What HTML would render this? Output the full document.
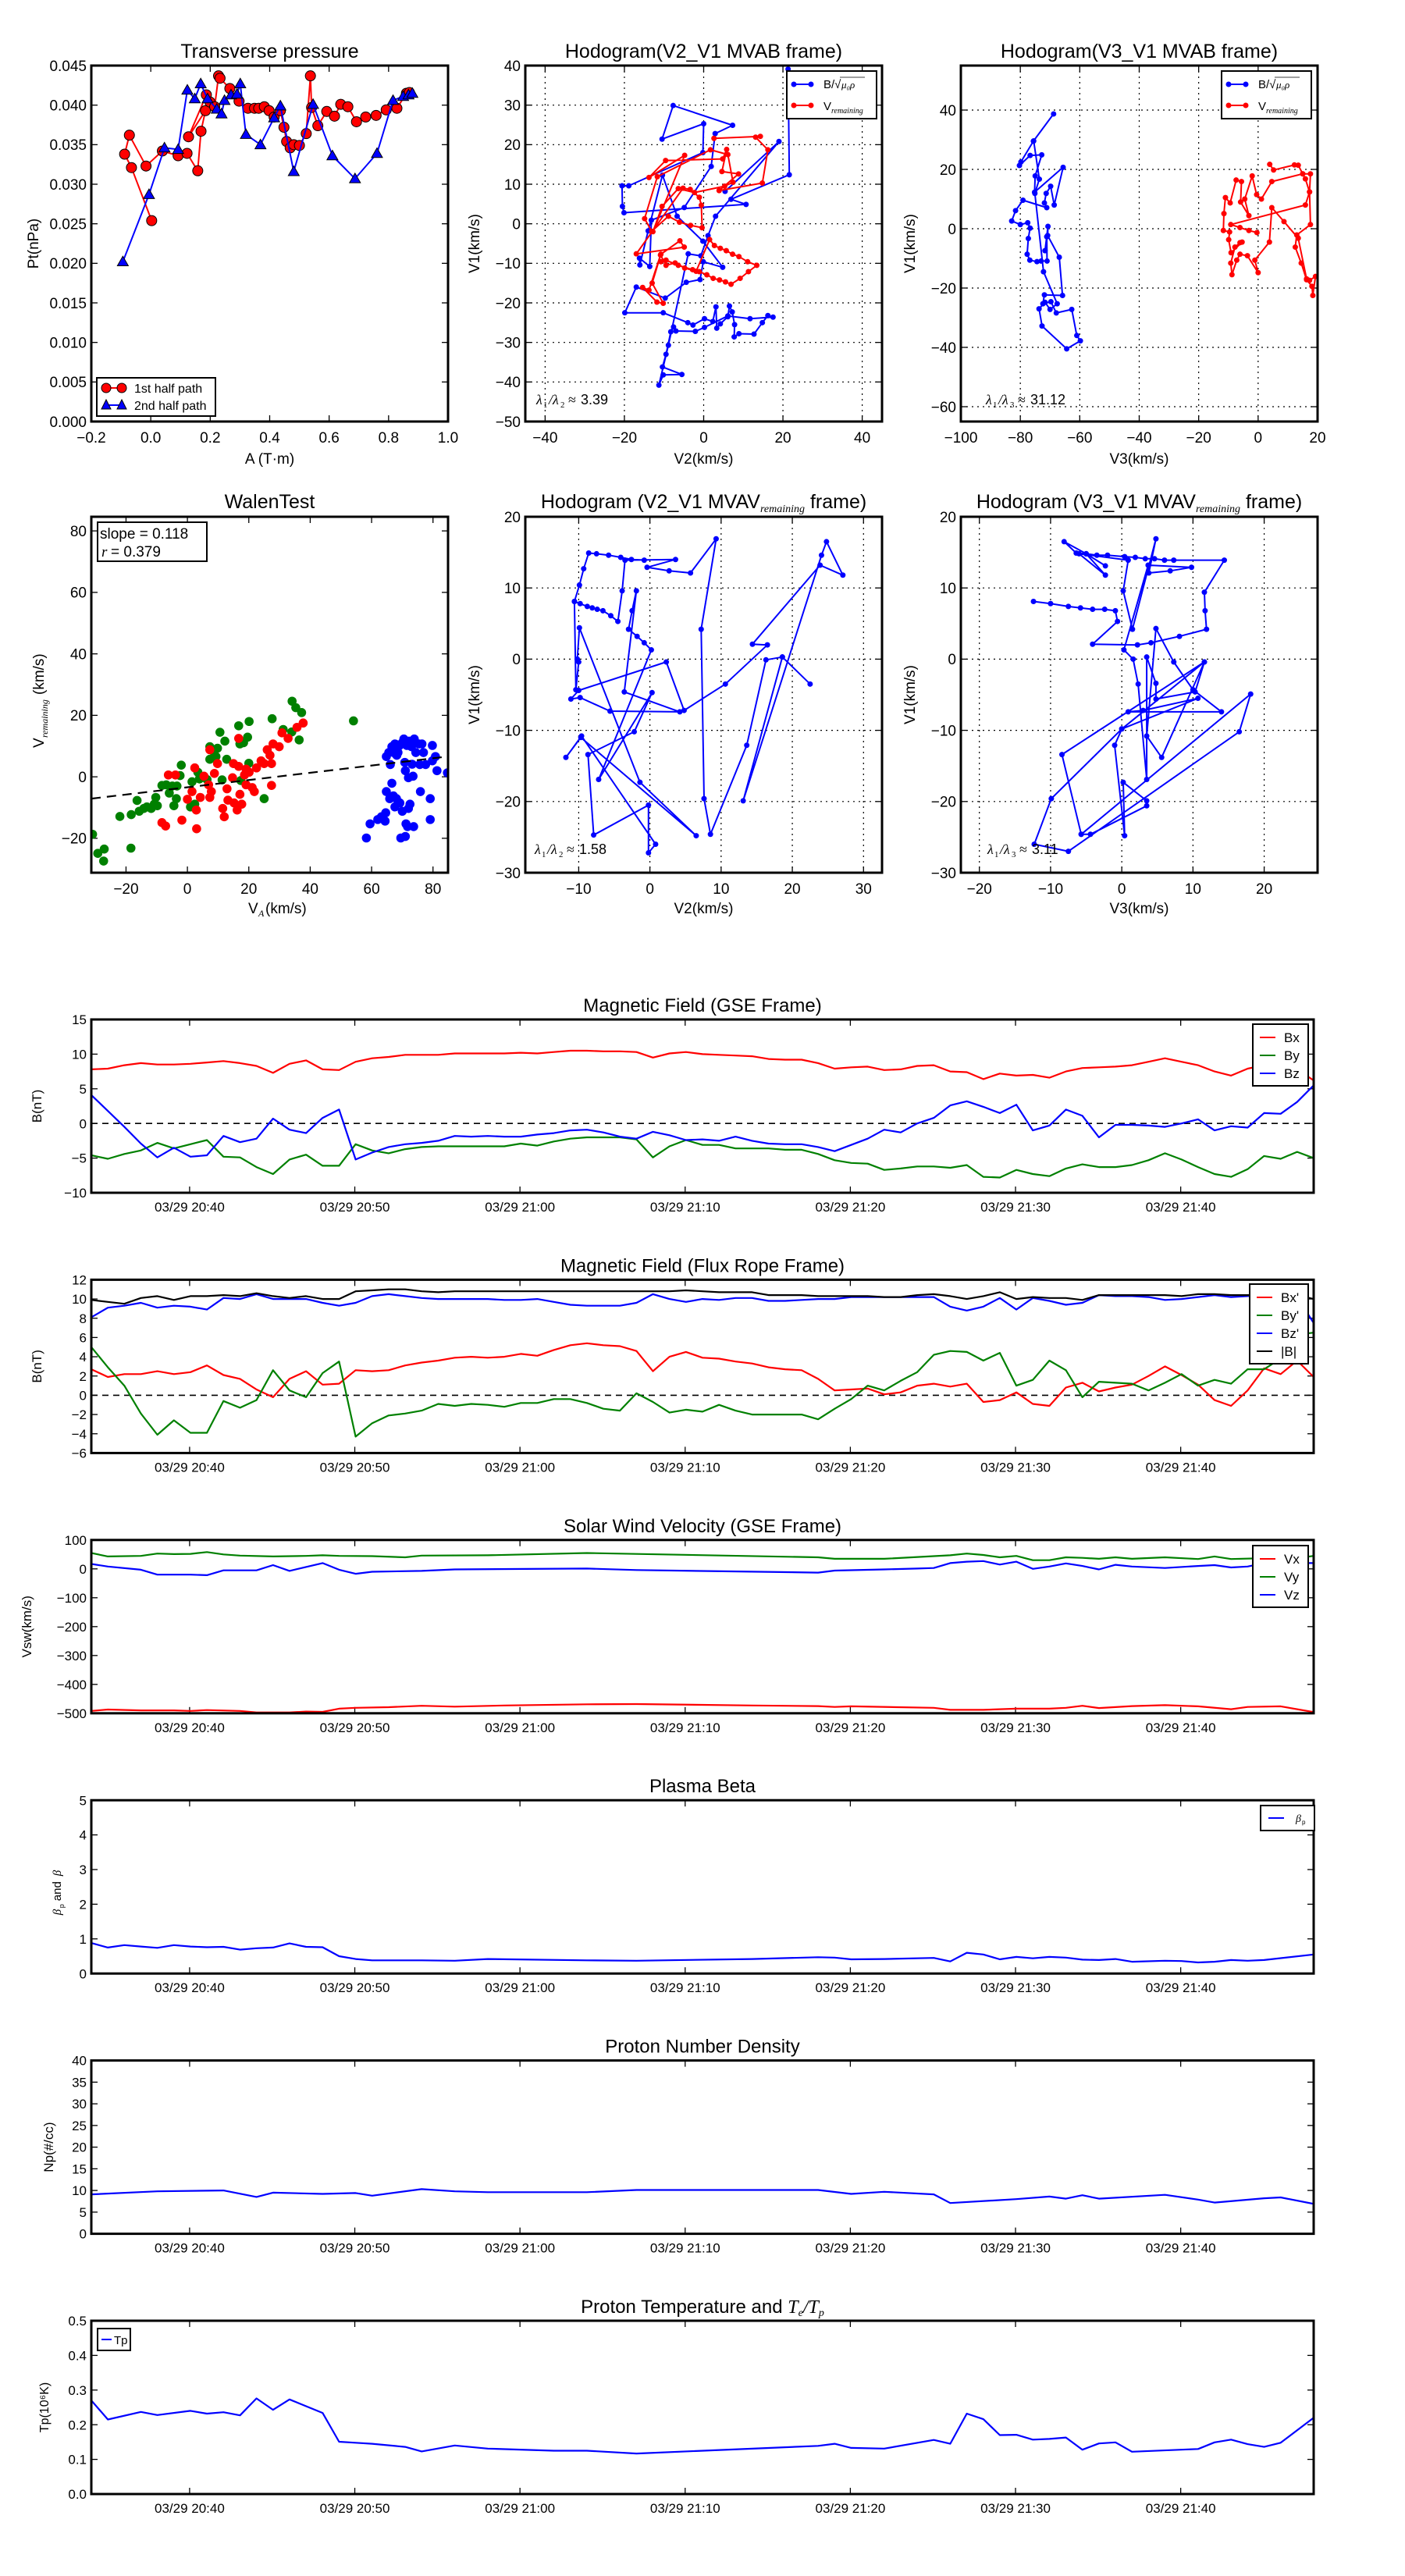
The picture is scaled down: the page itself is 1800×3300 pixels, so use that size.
<!DOCTYPE html>
<html><head><meta charset="utf-8">
<style>
html,body{margin:0;padding:0;background:#fff;}
svg{display:block;font-family:"Liberation Sans","DejaVu Sans",sans-serif;}
</style></head>
<body>
<svg id="fig" xmlns="http://www.w3.org/2000/svg" width="1800" height="3300" viewBox="0 0 1800 3300">
<rect x="0" y="0" width="1800" height="3300" fill="#fff"/>
</svg>
<script>
// ===== DATA =====
// Transverse pressure
const ptRedA=[0.003,-0.065,-0.088,-0.072,-0.016,0.039,0.092,0.122,0.158,0.169,0.184,0.127,0.187,0.199,0.215,0.228,0.233,0.266,0.297,0.327,0.349,0.363,0.382,0.398,0.415,0.436,0.448,0.457,0.469,0.481,0.500,0.523,0.537,0.541,0.562,0.592,0.618,0.639,0.663,0.692,0.723,0.758,0.792,0.828,0.860,0.870];
const ptRedP=[0.0254,0.0321,0.0338,0.0362,0.0323,0.0342,0.0336,0.0339,0.0317,0.0367,0.0393,0.0360,0.0413,0.0404,0.0398,0.0437,0.0434,0.0421,0.0405,0.0396,0.0396,0.0396,0.0398,0.0393,0.0385,0.0393,0.0372,0.0354,0.0346,0.0350,0.0349,0.0364,0.0437,0.0397,0.0374,0.0392,0.0386,0.0401,0.0398,0.0379,0.0385,0.0387,0.0394,0.0396,0.0415,0.0416];
const ptBlueA=[-0.094,-0.006,0.046,0.092,0.123,0.148,0.168,0.191,0.222,0.238,0.248,0.270,0.290,0.301,0.320,0.369,0.415,0.436,0.481,0.546,0.611,0.687,0.761,0.815,0.849,0.867,0.880];
const ptBlueP=[0.0202,0.0287,0.0346,0.0344,0.0419,0.0408,0.0427,0.0408,0.0395,0.0389,0.0406,0.0413,0.0414,0.0427,0.0363,0.0350,0.0384,0.0399,0.0316,0.0401,0.0336,0.0307,0.0339,0.0406,0.0411,0.0413,0.0415];
// Hodogram V2_V1 MVAB
const h1BV2=[21.3,21.6,6.9,10.7,-20.1,-20.5,-20.6,-18.9,-0.2,0.0,-10.5,-7.7,7.3,2.9,1.9,-4.9,-13.2,-13.6,-16.2,-16.1,-14.0,-10.4,-6.7,-0.2,4.8,-0.1,-0.9,-4.4,-9.7,-17.0,-19.9,-10.2,-4.0,-2.7,0.2,2.3,3.1,3.3,4.2,6.1,6.5,7.2,7.8,7.7,8.9,12.7,14.8,16.2,17.5,11.7,6.1,0.2,-2.1,-7.0,-7.6,-8.3,-9.5,-10.4,-5.5,-10.2,-11.3,-8.9,-3.9,-0.7,1.1,3.0,19.0,5.4];
const h1BV1=[39.1,12.4,6.2,4.9,2.8,4.4,9.6,9.6,18.0,25.3,21.4,29.9,24.9,22.8,14.5,4.1,0.9,-10.8,-8.7,-10.4,-1.8,12.3,1.9,-4.4,-11.0,-9.6,-14.1,-14.8,-18.8,-16.0,-22.5,-22.5,-25.0,-25.6,-24.0,-24.7,-21.0,-26.4,-25.3,-23.5,-20.8,-22.3,-25.5,-28.6,-27.8,-27.9,-25.0,-23.2,-23.6,-24.0,-23.3,-26.2,-27.2,-27.1,-26.1,-27.3,-33.0,-36.2,-38.1,-38.2,-40.8,-30.7,-7.6,-8.1,-3.0,1.9,20.8,8.2];
const h1RV2=[2.6,14.3,13.1,16.2,14.8,3.9,8.8,4.6,5.8,4.8,-9.6,-13.8,-4.8,-12.8,-10.5,-6.4,-2.3,5.3,7.4,6.1,1.7,-11.7,-14.9,-13.1,-8.9,-6.1,-3.3,-0.4,-0.6,-1.1,-3.4,-5.2,-17.0,-4.9,-6.0,-10.8,-13.0,-10.2,-11.8,-15.4,-13.8,-10.9,-9.5,-7.2,-4.8,-1.9,1.5,2.7,4.2,5.7,7.3,8.9,11.1,13.4,11.3,9.2,6.9,5.5,4.0,2.4,0.8,-1.1,-2.8,-6.4,-9.5,-10.8];
const h1RV1=[21.6,22.1,21.9,18.7,10.3,8.4,12.6,13.2,18.8,16.4,16.0,11.7,17.3,-2.0,4.4,8.9,7.9,9.5,10.5,17.5,18.7,11.9,1.3,-1.9,1.9,0.4,-0.4,-1.0,4.7,6.7,8.7,9.0,-7.6,-5.9,-4.3,-7.7,-15.0,-20.1,-19.8,-16.1,-16.8,-7.9,-10.5,-9.9,-11.2,-12.0,-4.0,-5.5,-6.2,-6.8,-7.7,-8.3,-9.6,-10.5,-12.1,-13.8,-15.3,-14.7,-14.2,-13.8,-12.9,-12.1,-11.6,-10.5,-9.2,-9.6];
// Hodogram V3_V1 MVAB
const h2BV3=[-68.8,-75.6,-79.8,-80.3,-76.7,-72.8,-75.0,-75.2,-65.6,-68.6,-69.8,-71.3,-71.9,-71.1,-79.1,-81.6,-82.9,-80.0,-77.5,-76.7,-77.3,-77.7,-76.8,-74.4,-73.0,-71.0,-71.1,-71.7,-70.7,-70.8,-66.9,-65.8,-71.9,-72.4,-69.7,-67.9,-62.7,-61.0,-59.8,-64.4,-72.7,-73.7,-71.7,-70.0,-67.6,-72.2,-75.1,-73.6,-75.5];
const h2BV1=[38.7,29.5,22.5,21.3,24.7,24.9,17.8,12.3,20.7,8.0,14.3,11.9,8.7,7.1,9.6,6.1,2.6,1.4,2.0,0.2,-3.3,-8.6,-10.6,-11.1,-10.9,-10.9,-2.7,-7.4,0.8,-2.3,-9.6,-22.5,-22.3,-25.3,-24.6,-28.4,-27.2,-36.0,-37.8,-40.5,-32.8,-27.0,-24.8,-27.2,-25.3,-14.5,11.9,16.7,29.6];
const h2RV3=[3.9,5.2,12.2,13.5,15.0,17.6,17.3,17.6,13.0,12.5,14.5,16.3,18.1,18.4,19.3,17.3,16.3,13.5,8.7,4.6,3.8,-1.1,0.0,-3.6,-6.1,-7.2,-8.8,-9.2,-7.8,-6.1,-5.4,-9.1,-9.9,-9.6,-11.7,-11.5,-11.0,-9.4,-7.4,-5.6,-5.9,-3.1,-4.5,-2.0,-0.5,1.1,4.6,15.0,15.9,17.3,15.9,-9.2,-6.1,-3.1,-0.4];
const h2RV1=[21.7,19.8,21.5,21.4,18.5,18.5,12.4,1.4,-2.1,-6.2,-11.6,-17.2,-19.4,-22.5,-16.1,-17.4,-16.9,-3.2,2.4,7.1,-4.5,-10.6,-14.8,-9.1,-8.6,-10.6,-15.5,-11.6,-6.2,-4.7,-4.5,-8.1,-3.7,-1.1,-0.6,5.1,10.5,8.7,16.4,15.9,9.0,4.4,10.0,17.8,11.5,10.0,15.9,18.5,16.8,12.4,8.0,1.4,0.4,-0.6,-1.3];
// Walen test
const wGreenVA=[-30.9,-29.2,-27.1,-27.3,-22.0,-18.4,-18.3,-16.4,-15.7,-14.2,-13.2,-11.8,-10.8,-10.3,-9.8,-8.3,-6.9,-5.9,-4.4,-3.4,-3.6,-2.4,-2.0,1.0,2.4,1.5,3.4,3.9,6.4,7.3,8.3,9.3,9.8,10.6,11.3,12.2,12.8,16.7,17.1,17.4,18.3,19.6,20.0,20.1,25.0,27.6,31.2,34.0,34.1,35.3,36.4,37.2,54.1,-4.9,7.3];
const wGreenV=[-18.7,-24.9,-23.5,-27.4,-12.9,-23.2,-12.3,-7.7,-11.2,-10.3,-9.8,-10.3,-8.9,-6.7,-9.4,-2.8,-2.6,-5.3,-9.4,-3.0,-7.1,0.4,3.8,-9.8,-8.9,-1.6,1.5,-0.7,-0.9,5.7,8.4,6.6,9.3,14.5,-1.0,11.6,5.7,16.6,10.7,-1.2,11.1,12.9,4.4,18.0,-7.1,18.9,15.4,14.6,24.6,22.5,12.0,20.9,18.2,-3.0,9.8];
const wRedVA=[-8.3,-7.1,-6.2,-3.9,-1.8,0.0,1.5,2.4,3.0,2.9,4.2,5.4,6.9,7.3,7.8,8.8,9.8,11.5,12.0,12.9,13.2,14.7,15.2,16.2,16.7,16.7,17.1,17.7,18.6,19.1,20.1,21.1,21.8,22.5,24.0,25.0,26.0,26.9,27.4,27.4,27.9,29.9,30.8,32.8,35.7,37.7,19.1,15.0,7.3];
const wRedV=[-14.9,-16.0,0.6,0.6,-14.1,-7.3,-4.8,2.9,-16.9,-10.8,-6.7,0.2,-2.6,8.8,-4.8,1.1,4.3,-10.3,-13.0,-3.9,-7.6,-0.3,-8.5,-10.8,12.5,3.4,-5.7,-8.9,0.6,2.5,1.5,-3.5,-4.8,2.9,5.2,4.3,8.8,7.0,-2.8,4.3,10.7,9.8,14.3,12.5,16.1,17.5,-2.6,4.3,-6.7];
const wBlueVA=[58.3,59.5,62.0,63.2,64.4,64.6,64.8,65.9,66.6,67.1,67.6,68.1,69.2,70.0,69.5,71.0,71.2,71.7,72.0,72.5,73.7,75.9,79.1,79.1,79.8,80.8,81.3,84.7,71.0,72.0,73.5,64.8,65.6,66.6,67.1,67.6,68.1,68.6,69.1,70.0,70.5,71.5,72.2,73.0,73.9,74.4,75.4,76.4,76.9,75.7,77.6,79.8,73.2,70.8,66.1,68.2];
const wBlueV=[-19.9,-15.3,-13.9,-13.0,-14.4,-11.7,-4.8,-7.1,-2.1,-6.2,-9.8,-7.1,-8.5,-11.2,-19.9,-19.4,-15.3,-16.2,-10.3,-8.9,-16.2,-4.8,-13.9,-7.1,10.2,6.6,2.0,1.3,2.0,-0.3,0.2,6.6,7.9,9.8,7.9,10.7,8.8,7.9,10.2,11.1,12.3,10.2,11.6,9.8,12.3,7.9,10.7,10.7,7.9,4.0,4.0,5.2,4.1,4.7,4.0,7.0];
const walenSlope=0.118, walenIntercept=-3.4;
// Hodogram V2_V1 MVAV
const h3V2=[-10.6,-9.8,-8.8,-8.1,-7.4,-6.6,-5.5,-4.5,-3.9,-3.5,3.6,-0.4,2.7,5.7,9.3,7.2,7.6,8.5,13.6,16.3,18.6,22.5,18.6,13.1,24.1,24.8,27.1,23.9,14.4,16.5,10.6,4.8,2.3,-10.0,-11.1,-9.8,-5.6,4.2,-3.6,-1.9,-2.5,-3.0,-1.8,-0.8,0.2,-7.2,0.3,-2.2,-8.7,-7.9,-0.2,-0.2,0.8,-9.6,-11.8,-9.7,6.5,-1.4,-9.9,-10.2,-10.0,-10.4,-10.6,-9.9,-9.3,-8.6,-7.5,-5.8,-4.1,-2.6,-0.8];
const h3V1=[8.1,7.8,7.4,7.2,7.0,6.8,6.1,5.3,9.6,13.9,14.0,12.9,12.4,12.1,16.9,4.2,-19.6,-24.6,-12.1,-0.1,0.3,-3.5,0.3,-19.9,14.6,16.5,11.8,13.2,2.1,2.0,-3.5,-7.2,-0.4,-4.4,-5.6,-5.4,-7.3,-7.4,-4.6,9.6,6.8,4.2,3.2,2.3,1.3,-16.9,-4.7,-10.2,-13.4,-24.7,-20.5,-27.2,-26.0,-10.8,-13.8,-11.0,-24.8,-17.3,4.4,0.0,-0.4,-4.3,8.1,10.4,12.7,14.9,14.8,14.6,14.3,14.0,13.9];
// Hodogram V3_V1 MVAV
const h4V3=[-12.4,-10.0,-7.5,-5.8,-4.1,-2.4,-0.9,-0.6,-4.1,2.2,4.1,8.1,11.9,11.7,11.6,14.4,7.3,6.0,4.6,3.3,1.9,0.4,-2.0,-3.5,-5.0,-6.4,-8.1,-5.0,-2.3,-5.0,-2.3,-6.0,0.9,0.2,1.5,4.8,3.8,6.8,9.8,3.7,0.3,1.6,2.3,3.5,3.5,4.8,4.8,10.3,11.6,5.6,3.5,4.8,7.3,10.0,14.0,0.9,3.0,10.7,0.0,-1.0,0.4,0.2,3.5,3.5,-4.4,-5.7,18.1,16.5,-7.5,-12.3,-9.9,0.0,11.6,-8.4,-5.7];
const h4V1=[8.1,7.8,7.4,7.2,7.0,7.0,6.8,5.3,2.1,2.0,2.3,3.2,4.2,6.8,9.4,13.9,13.9,13.9,14.1,14.1,14.3,14.4,14.6,14.6,14.8,14.9,16.5,14.8,13.1,14.8,11.8,14.8,13.9,9.6,4.2,16.9,12.1,12.4,12.9,13.2,1.3,0.0,-3.5,-16.9,0.3,-3.4,-5.6,-4.6,-0.4,-13.8,-10.8,4.3,-0.4,-4.3,-7.4,-7.4,-7.2,-5.5,-9.8,-12.1,-24.8,-17.3,-19.9,-20.6,-24.6,-24.6,-4.9,-10.2,-27.0,-26.0,-19.6,-9.8,-0.4,-13.4,-24.6];
// Time series (minute index from 20:34)
const gseBx=[7.8,7.9,8.4,8.7,8.5,8.5,8.6,8.8,9.0,8.7,8.3,7.3,8.6,9.1,7.8,7.7,8.9,9.4,9.6,9.9,9.9,9.9,10.1,10.1,10.1,10.1,10.2,10.1,10.3,10.5,10.5,10.4,10.4,10.3,9.5,10.1,10.3,10.0,9.9,9.8,9.7,9.3,9.2,9.2,8.7,7.9,8.1,8.2,7.7,7.8,8.3,8.4,7.5,7.4,6.4,7.2,6.9,7.0,6.6,7.5,8.0,8.1,8.2,8.4,8.9,9.4,8.9,8.4,7.5,6.9,7.9,8.4,8.2,7.8,6.2];
const gseBy=[-4.6,-5.1,-4.4,-3.9,-2.8,-3.6,-3.0,-2.4,-4.8,-4.9,-6.3,-7.3,-5.2,-4.5,-6.1,-6.1,-3.0,-3.9,-4.3,-3.7,-3.4,-3.3,-3.3,-3.3,-3.3,-3.3,-2.9,-3.2,-2.6,-2.2,-2.0,-2.0,-2.0,-2.3,-4.9,-3.3,-2.4,-3.1,-3.1,-3.6,-3.6,-3.6,-3.8,-3.8,-4.4,-5.3,-5.7,-5.8,-6.7,-6.5,-6.2,-6.2,-6.4,-6.0,-7.7,-7.8,-6.7,-7.3,-7.6,-6.5,-5.9,-6.3,-6.3,-6.0,-5.3,-4.3,-5.2,-6.3,-7.3,-7.7,-6.6,-4.7,-5.1,-4.1,-5.0];
const gseBz=[4.1,1.8,-0.5,-2.9,-4.9,-3.5,-4.8,-4.6,-1.8,-2.7,-2.2,0.7,-0.9,-1.4,0.8,2.0,-5.2,-4.2,-3.4,-3.0,-2.8,-2.5,-1.8,-1.9,-1.8,-1.9,-1.9,-1.6,-1.4,-1.0,-0.9,-1.3,-1.9,-2.2,-1.2,-1.7,-2.4,-2.3,-2.5,-1.9,-2.5,-2.9,-3.0,-3.0,-3.4,-4.0,-3.1,-2.2,-0.9,-1.3,0.0,0.8,2.6,3.2,2.4,1.5,2.7,-1.0,-0.3,2.0,1.1,-2.0,-0.2,-0.2,-0.3,-0.5,0.0,0.6,-1.0,-0.4,-0.6,1.5,1.4,3.1,5.5];
const frBx=[2.7,1.9,2.2,2.2,2.5,2.2,2.4,3.1,2.1,1.7,0.6,-0.2,1.7,2.5,1.1,1.2,2.6,2.5,2.6,3.1,3.4,3.6,3.9,4.0,3.9,4.0,4.3,4.1,4.7,5.2,5.4,5.2,5.1,4.6,2.5,4.0,4.5,3.9,3.8,3.5,3.3,2.9,2.7,2.6,1.7,0.5,0.6,0.7,0.1,0.3,1.0,1.2,0.9,1.2,-0.7,-0.5,0.3,-0.9,-1.1,0.8,1.3,0.4,0.8,1.1,2.0,3.0,2.1,1.1,-0.5,-1.1,0.5,2.8,2.2,3.6,1.9];
const frBy=[5.0,2.9,1.0,-1.9,-4.1,-2.6,-3.9,-3.9,-0.6,-1.3,-0.5,2.6,0.5,-0.2,2.3,3.5,-4.3,-2.9,-2.1,-1.9,-1.6,-0.9,-1.1,-0.9,-1.0,-1.2,-0.8,-0.8,-0.4,-0.4,-0.8,-1.4,-1.6,0.2,-0.7,-1.8,-1.5,-1.7,-1.0,-1.6,-2.0,-2.0,-2.0,-2.0,-2.5,-1.4,-0.4,1.0,0.5,1.5,2.4,4.2,4.6,4.5,3.6,4.4,1.0,1.6,3.6,2.6,-0.2,1.4,1.3,1.2,0.5,1.3,2.2,1.0,1.6,1.2,2.7,2.7,3.8,6.3,6.5];
const frBz=[8.1,9.1,9.3,9.6,9.1,9.3,9.2,8.9,10.1,10.0,10.5,10.0,10.0,10.0,9.6,9.3,9.6,10.3,10.5,10.3,10.1,10.0,10.0,10.0,10.0,9.9,9.9,10.0,9.7,9.4,9.3,9.3,9.3,9.6,10.5,10.0,9.7,10.0,9.9,10.1,10.1,9.8,9.8,9.9,10.0,10.0,10.2,10.2,10.2,10.2,10.2,10.2,9.2,8.8,9.2,10.1,8.9,10.1,9.8,9.4,9.6,10.4,10.3,10.3,10.2,9.9,10.0,10.2,10.4,10.2,10.3,10.4,10.4,10.2,7.5];
const frBt=[9.9,9.7,9.5,10.1,10.3,9.9,10.3,10.3,10.4,10.3,10.6,10.3,10.1,10.3,10.0,10.0,10.8,10.9,11.0,11.0,10.8,10.7,10.8,10.8,10.8,10.8,10.8,10.8,10.8,10.8,10.8,10.8,10.8,10.8,10.8,10.8,10.9,10.8,10.7,10.7,10.7,10.4,10.4,10.4,10.3,10.3,10.3,10.3,10.2,10.2,10.4,10.5,10.3,10.0,10.3,10.7,10.0,10.2,10.1,10.1,9.9,10.4,10.4,10.4,10.4,10.4,10.3,10.5,10.5,10.4,10.4,10.4,10.4,10.4,10.0];
const vxT=[0,1,3,5,6,7,9,10,12,13,14,15,16,18,20,22,25,30,33,40,44,45,46,51,52,54,56,58,59,60,61,63,65,67,69,70,72,74];
const vxV=[-492,-487,-490,-490,-492,-489,-492,-497,-497,-494,-495,-484,-481,-479,-474,-477,-473,-469,-468,-473,-475,-478,-476,-481,-488,-488,-484,-484,-481,-474,-482,-475,-472,-476,-486,-478,-476,-496];
const vyT=[0,1,3,4,5,6,7,8,9,11,13,14,15,17,19,20,24,30,44,45,48,52,53,54,55,56,57,58,59,60,61,62,63,65,67,68,69,71,72,73,74];
const vyV=[55,43,45,53,51,52,58,50,46,43,45,47,45,44,40,46,47,55,40,35,35,47,53,48,40,45,30,30,40,38,35,40,35,40,34,43,34,37,40,37,45];
const vzT=[0,1,3,4,6,7,8,9,10,11,12,14,15,16,17,20,22,30,33,44,45,48,50,51,52,53,54,55,56,57,58,59,60,61,62,63,65,67,68,69,70,71,74];
const vzV=[17,8,-3,-20,-20,-22,-5,-5,-5,13,-7,20,-3,-17,-10,-7,-2,1,-4,-13,-6,-2,1,3,20,25,27,15,25,0,8,19,10,-2,14,8,3,10,13,5,8,20,20];
const betaT=[0,1,2,3,4,5,6,7,8,9,10,11,12,13,14,15,16,17,20,22,24,30,33,40,44,45,46,48,51,52,53,54,55,56,57,58,59,60,61,62,63,65,66,67,68,69,70,71,74];
const betaV=[0.88,0.75,0.82,0.78,0.74,0.82,0.78,0.76,0.77,0.69,0.73,0.75,0.87,0.77,0.76,0.5,0.42,0.38,0.38,0.37,0.42,0.38,0.37,0.42,0.47,0.46,0.41,0.42,0.45,0.35,0.6,0.55,0.41,0.48,0.44,0.48,0.46,0.40,0.39,0.42,0.34,0.37,0.36,0.32,0.34,0.39,0.37,0.39,0.55];
const npT=[0,4,8,10,11,14,16,17,20,22,24,30,33,44,46,48,51,52,56,58,59,60,61,65,67,68,71,72,74];
const npV=[9.1,9.8,10.0,8.5,9.5,9.2,9.4,8.8,10.3,9.8,9.6,9.6,10.1,10.1,9.2,9.7,9.1,7.1,8.0,8.6,8.1,8.9,8.1,9.0,7.9,7.2,8.2,8.4,6.9];
const tpT=[0,1,3,4,6,7,8,9,10,11,12,14,15,16,17,19,20,22,24,28,30,33,44,45,46,48,51,52,53,54,55,56,57,58,59,60,61,62,63,67,68,69,70,71,72,74];
const tpV=[0.27,0.215,0.237,0.228,0.24,0.232,0.236,0.227,0.276,0.243,0.273,0.234,0.151,0.148,0.145,0.136,0.123,0.140,0.131,0.125,0.125,0.117,0.139,0.145,0.133,0.131,0.156,0.145,0.232,0.216,0.17,0.171,0.157,0.159,0.163,0.128,0.146,0.149,0.122,0.13,0.149,0.157,0.144,0.136,0.148,0.22];
const timeTickLabels=['03/29 20:40','03/29 20:50','03/29 21:00','03/29 21:10','03/29 21:20','03/29 21:30','03/29 21:40'];
const timeTickMinutes=[40,50,60,70,80,90,100];
const startMinute=34.05;

// ===== HELPERS =====
const NS='http://www.w3.org/2000/svg';
const svg=document.getElementById('fig');
let clipN=0;
function el(tag,attrs,parent){const e=document.createElementNS(NS,tag);for(const k in attrs)e.setAttribute(k,attrs[k]);(parent||svg).appendChild(e);return e;}
function txt(parent,x,y,s,size,anchor,extra){const t=el('text',Object.assign({x:x,y:y,'font-size':size,'text-anchor':anchor||'middle',fill:'#000'},extra||{}),parent);t.textContent=s;return t;}
function fmt(v,d){const s=v.toFixed(d);return s.replace('-','\u2212');}
function axes(o){
  const g=el('g',{});
  
  
  const sx=v=>o.x+(v-o.xd[0])/(o.xd[1]-o.xd[0])*o.w;
  const sy=v=>o.y+o.h-(v-o.yd[0])/(o.yd[1]-o.yd[0])*o.h;
  const id='clip'+(clipN++);
  const cp=el('clipPath',{id:id},g);el('rect',{x:o.x,y:o.y,width:o.w,height:o.h},cp);
  const fs=o.fs||19;
  // grid
  if(o.grid){
    const gg=el('g',{stroke:'#000','stroke-width':1.2,'stroke-dasharray':'2,5'},g);
    
    
    o.xt.forEach(v=>el('line',{x1:sx(v),x2:sx(v),y1:o.y,y2:o.y+o.h},gg));
    o.yt.forEach(v=>el('line',{x1:o.x,x2:o.x+o.w,y1:sy(v),y2:sy(v)},gg));
  }
  const tk=el('g',{stroke:'#000','stroke-width':1.3},g);
  const xl=el('g',{},g);
  
  
  o.xt.forEach((v,i)=>{const X=sx(v);
    el('line',{x1:X,x2:X,y1:o.y+o.h,y2:o.y+o.h-8},tk);el('line',{x1:X,x2:X,y1:o.y,y2:o.y+8},tk);
    txt(xl,X,o.y+o.h+(o.xlOff||27),o.xlab?o.xlab[i]:fmt(v,o.xdp||0),fs);});
  const yl=el('g',{},g);
  
  
  o.yt.forEach((v,i)=>{const Y=sy(v);
    el('line',{x1:o.x,x2:o.x+8,y1:Y,y2:Y},tk);el('line',{x1:o.x+o.w,x2:o.x+o.w-8,y1:Y,y2:Y},tk);
    txt(yl,o.x-6,Y+fs*0.36,fmt(v,o.ydp||0),fs,'end');});
  const data=el('g',{'clip-path':'url(#'+id+')'},g);
  
  
  const over=el('g',{},g);
  const fr=el('rect',{x:o.x,y:o.y,width:o.w,height:o.h,fill:'none',stroke:'#000','stroke-width':3},g);
  
  
  return {g,data,over,sx,sy,o};
}
function poly(ax,xs,ys,color,w,name,dash){
  const pts=xs.map((x,i)=>ax.sx(x).toFixed(1)+','+ax.sy(ys[i]).toFixed(1)).join(' ');
  const p=el('polyline',{points:pts,fill:'none',stroke:color,'stroke-width':w||2,'stroke-linejoin':'round'},ax.data);
  if(dash)p.setAttribute('stroke-dasharray',dash);
  
  
  return p;
}
function dots(ax,xs,ys,color,r,name,stroke){
  const g=el('g',{fill:color},ax.data);
  
  
  xs.forEach((x,i)=>{const c=el('circle',{cx:ax.sx(x),cy:ax.sy(ys[i]),r:r},g);if(stroke){c.setAttribute('stroke','#000');c.setAttribute('stroke-width',1);}});
  return g;
}
function tris(ax,xs,ys,color,s,name){
  const g=el('g',{fill:color,stroke:'#000','stroke-width':1},ax.data);
  
  
  xs.forEach((x,i)=>{const X=ax.sx(x),Y=ax.sy(ys[i]);el('polygon',{points:`${X},${Y-s} ${X-s},${Y+s*0.75} ${X+s},${Y+s*0.75}`},g);});
}
function mathItalic(parent,x,y,s,size){return txt(parent,x,y,s,size,'start',{'font-family':'Liberation Serif, DejaVu Serif, serif','font-style':'italic'});}

// ===== ROW 1 =====
const C=[117,673,1231], W=457, R1=84, R2=662, H=456;
// Transverse pressure
{
 const ax=axes({name:'transverse-pressure-chart',x:C[0],y:R1,w:W,h:H,xd:[-0.2,1.0],yd:[0,0.045],xt:[-0.2,0,0.2,0.4,0.6,0.8,1.0],yt:[0,0.005,0.01,0.015,0.02,0.025,0.03,0.035,0.04,0.045],xdp:1,ydp:3,fs:19});
 const t=txt(ax.g,C[0]+W/2,74,'Transverse pressure',25);
 
 
 const xl=txt(ax.g,C[0]+W/2,594,'A (T\u00b7m)',19);
 
 
 const yl=txt(ax.g,0,0,'Pt(nPa)',19,'middle',{transform:`translate(49,${R1+H/2}) rotate(-90)`});
 
 
 poly(ax,ptRedA,ptRedP,'#f00',2,'first-half-path-line');
 dots(ax,ptRedA,ptRedP,'#f00',6.5,'first-half-path-markers',true);
 poly(ax,ptBlueA,ptBlueP,'#00f',2,'second-half-path-line');
 tris(ax,ptBlueA,ptBlueP,'#00f',7,'second-half-path-markers');
 const lg=el('g',{},ax.g);
 
 
 el('rect',{x:124,y:484,width:152,height:49,fill:'#fff',stroke:'#000','stroke-width':2},lg);
 el('line',{x1:135,x2:157,y1:497,y2:497,stroke:'#f00','stroke-width':2},lg);
 el('circle',{cx:136,cy:497,r:6,fill:'#f00',stroke:'#000'},lg);el('circle',{cx:156,cy:497,r:6,fill:'#f00',stroke:'#000'},lg);
 txt(lg,172,503,'1st half path',16,'start');
 el('line',{x1:135,x2:157,y1:519,y2:519,stroke:'#00f','stroke-width':2},lg);
 el('polygon',{points:'136,512 130,524 142,524',fill:'#00f',stroke:'#000'},lg);el('polygon',{points:'156,512 150,524 162,524',fill:'#00f',stroke:'#000'},lg);
 txt(lg,172,525,'2nd half path',16,'start');
}
function hodoLegend(ax,x,y){
 const lg=el('g',{},ax.g);
 
 
 el('rect',{x:x,y:y,width:115,height:61,fill:'#fff',stroke:'#000','stroke-width':2},lg);
 el('line',{x1:x+9,x2:x+31,y1:y+17,y2:y+17,stroke:'#00f','stroke-width':2},lg);
 el('circle',{cx:x+9,cy:y+17,r:3.5,fill:'#00f'},lg);el('circle',{cx:x+31,cy:y+17,r:3.5,fill:'#00f'},lg);
 txt(lg,x+47,y+22,'B/\u221a',15,'start');
 mathItalic(lg,x+70,y+22,'\u03bc\u2080\u03c1',13);
 el('line',{x1:x+68,x2:x+100,y1:y+8,y2:y+8,stroke:'#000','stroke-width':0.8},lg);
 el('line',{x1:x+9,x2:x+31,y1:y+44,y2:y+44,stroke:'#f00','stroke-width':2},lg);
 el('circle',{cx:x+9,cy:y+44,r:3.5,fill:'#f00'},lg);el('circle',{cx:x+31,cy:y+44,r:3.5,fill:'#f00'},lg);
 txt(lg,x+47,y+50,'V',15,'start');
 mathItalic(lg,x+57,y+54,'remaining',10);
}
function lamText(ax,x,y,a,b,val,size){
 const g=el('g',{},ax.g);
 
 
 mathItalic(g,x,y,'\u03bb',size);txt(g,x+9,y+4,'1',size*0.6,'start',{'font-family':'Liberation Serif, serif'});
 mathItalic(g,x+16,y,'/\u03bb',size);txt(g,x+31,y+4,b,size*0.6,'start',{'font-family':'Liberation Serif, serif'});
 txt(g,x+41,y,'\u2248',size,'start',{'font-family':'Liberation Serif, serif'});
 txt(g,x+57,y,val,size,'start');
}
function labels(ax,title,xlab,ylab,ylx,xly,tly,titleNode){
 if(title){const t=txt(ax.g,ax.o.x+ax.o.w/2,tly,title,25);}
 const xl=txt(ax.g,ax.o.x+ax.o.w/2,xly,xlab,19);
 
 
 const yl=txt(ax.g,0,0,ylab,19,'middle',{transform:`translate(${ylx},${ax.o.y+ax.o.h/2}) rotate(-90)`});
 
 
}
{
 const ax=axes({name:'hodogram-v2-v1-mvab-chart',x:C[1],y:R1,w:W,h:H,xd:[-45,45],yd:[-50,40],xt:[-40,-20,0,20,40],yt:[-50,-40,-30,-20,-10,0,10,20,30,40],grid:true,fs:19});
 labels(ax,'Hodogram(V2_V1 MVAB frame)','V2(km/s)','V1(km/s)',614,594,74);
 poly(ax,h1BV2,h1BV1,'#00f',2,'b-alfven-path');dots(ax,h1BV2,h1BV1,'#00f',3.5,'b-alfven-points');
 poly(ax,h1RV2,h1RV1,'#f00',2,'v-remaining-path');dots(ax,h1RV2,h1RV1,'#f00',3.5,'v-remaining-points');
 hodoLegend(ax,1008,91);
 lamText(ax,687,518,'1','2','3.39',18);
}
{
 const ax=axes({name:'hodogram-v3-v1-mvab-chart',x:C[2],y:R1,w:W,h:H,xd:[-100,20],yd:[-65,55],xt:[-100,-80,-60,-40,-20,0,20],yt:[-60,-40,-20,0,20,40],grid:true,fs:19});
 labels(ax,'Hodogram(V3_V1 MVAB frame)','V3(km/s)','V1(km/s)',1172,594,74);
 poly(ax,h2BV3,h2BV1,'#00f',2,'b-alfven-path');dots(ax,h2BV3,h2BV1,'#00f',3.5,'b-alfven-points');
 poly(ax,h2RV3,h2RV1,'#f00',2,'v-remaining-path');dots(ax,h2RV3,h2RV1,'#f00',3.5,'v-remaining-points');
 hodoLegend(ax,1565,91);
 lamText(ax,1263,518,'1','3','31.12',18);
}
// ===== ROW 2 =====
{
 const ax=axes({name:'walen-test-chart',x:C[0],y:R2,w:W,h:H,xd:[-31.3,84.9],yd:[-31.2,84.6],xt:[-20,0,20,40,60,80],yt:[-20,0,20,40,60,80],fs:19});
 labels(ax,'WalenTest','','',52,1170,651);
 const xl=el('g',{},ax.g);
 
 
 txt(xl,318,1170,'V',19,'start');mathItalic(xl,331,1174,'A',12);txt(xl,340,1170,'(km/s)',19,'start');
 const yl=el('g',{transform:`translate(56,${R2+H/2}) rotate(-90)`},ax.g);
 
 
 txt(yl,-68,0,'V',19,'start');mathItalic(yl,-55,5,'remaining',12);txt(yl,0,0,'(km/s)',19,'start');
 dots(ax,wGreenVA,wGreenV,'#008000',5.8,'walen-green-points');
 dots(ax,wRedVA,wRedV,'#f00',5.8,'walen-red-points');
 dots(ax,wBlueVA,wBlueV,'#00f',5.8,'walen-blue-points');
 const fx=[ax.o.xd[0],ax.o.xd[1]];
 poly(ax,fx,fx.map(v=>walenIntercept+walenSlope*v),'#000',2.2,'fit-line','12,8');
 const bx=el('g',{},ax.g);
 
 
 el('rect',{x:125,y:669,width:140,height:50,fill:'#fff',stroke:'#000','stroke-width':2},bx);
 txt(bx,128,690,'slope = 0.118',19,'start');
 mathItalic(bx,130,713,'r',19);txt(bx,142,713,'= 0.379',19,'start');
}
function hodoTitle(ax,pre,post,ty){
 const g=el('g',{},ax.g);
 
 
 const t=el('text',{x:ax.o.x+ax.o.w/2,y:ty,'font-size':25,'text-anchor':'middle'},g);
 const a=el('tspan',{},t);a.textContent=pre;
 const b=el('tspan',{'font-family':'Liberation Serif, serif','font-style':'italic','font-size':14,dy:5},t);b.textContent='remaining';
 const c=el('tspan',{dy:-5},t);c.textContent=' '+post;
}
{
 const ax=axes({name:'hodogram-v2-v1-mvav-chart',x:C[1],y:R2,w:W,h:H,xd:[-17.5,32.6],yd:[-30,20],xt:[-10,0,10,20,30],yt:[-30,-20,-10,0,10,20],grid:true,fs:19});
 labels(ax,'','V2(km/s)','V1(km/s)',614,1170,0);
 hodoTitle(ax,'Hodogram (V2_V1 MVAV','frame)',651);
 poly(ax,h3V2,h3V1,'#00f',2,'hodogram-path');dots(ax,h3V2,h3V1,'#00f',3.5,'hodogram-points');
 lamText(ax,685,1094,'1','2','1.58',18);
}
{
 const ax=axes({name:'hodogram-v3-v1-mvav-chart',x:C[2],y:R2,w:W,h:H,xd:[-22.6,27.5],yd:[-30,20],xt:[-20,-10,0,10,20],yt:[-30,-20,-10,0,10,20],grid:true,fs:19});
 labels(ax,'','V3(km/s)','V1(km/s)',1172,1170,0);
 hodoTitle(ax,'Hodogram (V3_V1 MVAV','frame)',651);
 poly(ax,h4V3,h4V1,'#00f',2,'hodogram-path');dots(ax,h4V3,h4V1,'#00f',3.5,'hodogram-points');
 lamText(ax,1265,1094,'1','3','3.11',18);
}
// ===== TIME SERIES =====
const TX=117, TW=1566, TH=222;
const tops=[1306,1639.4,1972.8,2306.2,2639.6,2973];
function idx(n){return Array.from({length:n},(_,i)=>i);}
function tsAxes(k,name,yd,yt,ydp,title,ylab,ylx){
 const ax=axes({name:name,x:TX,y:tops[k],w:TW,h:TH,xd:[startMinute,startMinute+74],yd:yd,xt:timeTickMinutes,xlab:timeTickLabels,yt:yt,ydp:ydp,fs:17,xlOff:24});
 if(title){const t=txt(ax.g,TX+TW/2,tops[k]-10,title,24);}
 const yl=txt(ax.g,0,0,ylab,17,'middle',{transform:`translate(${ylx},${tops[k]+TH/2}) rotate(-90)`});
 
 
 return ax;
}
function tsLine(ax,ts,vals,color,name){return poly(ax,ts.map(t=>startMinute+t),vals,color,2.2,name);}
function tsLegend(ax,x,y,w,items){
 const lg=el('g',{},ax.g);
 
 
 el('rect',{x:x,y:y,width:w,height:10+items.length*23,fill:'#fff',stroke:'#000','stroke-width':2},lg);
 items.forEach((it,i)=>{const Y=y+17+i*23;el('line',{x1:x+9,x2:x+29,y1:Y,y2:Y,stroke:it[1],'stroke-width':2},lg);
  if(it[2])mathItalic(lg,x+40,Y+5,it[0],15);else txt(lg,x+40,Y+6,it[0],17,'start');});
}
function zeroLine(ax){const z=[ax.o.xd[0],ax.o.xd[1]];poly(ax,z,[0,0],'#000',1.6,'zero-line','8,6');}
{
 const ax=tsAxes(0,'magnetic-field-gse-chart',[-10,15],[-10,-5,0,5,10,15],0,'Magnetic Field (GSE Frame)','B(nT)',53);
 zeroLine(ax);
 const t=idx(gseBx.length);
 tsLine(ax,t,gseBx,'#f00','bx-line');tsLine(ax,t,gseBy,'#008000','by-line');tsLine(ax,t,gseBz,'#00f','bz-line');
 tsLegend(ax,1605,1312,71,[['Bx','#f00'],['By','#008000'],['Bz','#00f']]);
}
{
 const ax=tsAxes(1,'magnetic-field-flux-rope-chart',[-6,12],[-6,-4,-2,0,2,4,6,8,10,12],0,'Magnetic Field (Flux Rope Frame)','B(nT)',53);
 zeroLine(ax);
 const t=idx(frBx.length);
 tsLine(ax,t,frBx,'#f00','bx-prime-line');tsLine(ax,t,frBy,'#008000','by-prime-line');tsLine(ax,t,frBz,'#00f','bz-prime-line');tsLine(ax,t,frBt,'#000','btotal-line');
 tsLegend(ax,1601,1645,75,[["Bx'",'#f00'],["By'",'#008000'],["Bz'",'#00f'],['|B|','#000']]);
}
{
 const ax=tsAxes(2,'solar-wind-velocity-chart',[-500,100],[-500,-400,-300,-200,-100,0,100],0,'Solar Wind Velocity (GSE Frame)','Vsw(km/s)',40);
 tsLine(ax,vxT,vxV,'#f00','vx-line');tsLine(ax,vyT,vyV,'#008000','vy-line');tsLine(ax,vzT,vzV,'#00f','vz-line');
 tsLegend(ax,1605,1980,71,[['Vx','#f00'],['Vy','#008000'],['Vz','#00f']]);
}
{
 const ax=tsAxes(3,'plasma-beta-chart',[0,5],[0,1,2,3,4,5],0,'Plasma Beta','',73);
 const yl=el('g',{transform:`translate(78,${tops[3]+TH/2}) rotate(-90)`},ax.g);
 
 
 mathItalic(yl,-36,0,'\u03b2',15);txt(yl,-27,4,'p',9,'start');txt(yl,-18,0,'and',15,'start');mathItalic(yl,14,0,'\u03b2',15);
 tsLine(ax,betaT,betaV,'#00f','beta-p-line');
 const lg=el('g',{},ax.g);
 
 
 el('rect',{x:1615,y:2313,width:69,height:32,fill:'#fff',stroke:'#000','stroke-width':2},lg);
 el('line',{x1:1625,x2:1645,y1:2329,y2:2329,stroke:'#00f','stroke-width':2},lg);
 mathItalic(lg,1660,2334,'\u03b2',14);txt(lg,1668,2337,'p',8,'start');
}
{
 const ax=tsAxes(4,'proton-density-chart',[0,40],[0,5,10,15,20,25,30,35,40],0,'Proton Number Density','Np(#/cc)',68);
 tsLine(ax,npT,npV,'#00f','np-line');
}
{
 const ax=tsAxes(5,'proton-temperature-chart',[0,0.5],[0,0.1,0.2,0.3,0.4,0.5],1,'','',58);
 const g=el('g',{},ax.g);
 
 
 const t=el('text',{x:TX+TW/2,y:tops[5]-10,'font-size':24,'text-anchor':'middle'},g);
 const a=el('tspan',{},t);a.textContent='Proton Temperature and ';
 const b=el('tspan',{'font-family':'Liberation Serif, serif','font-style':'italic'},t);b.textContent='T';
 const c=el('tspan',{'font-family':'Liberation Serif, serif','font-style':'italic','font-size':14,dy:4},t);c.textContent='e';
 const d=el('tspan',{'font-family':'Liberation Serif, serif','font-style':'italic',dy:-4},t);d.textContent='/T';
 const e=el('tspan',{'font-family':'Liberation Serif, serif','font-style':'italic','font-size':14,dy:4},t);e.textContent='p';
 const yl=el('g',{transform:`translate(62,${tops[5]+TH/2}) rotate(-90)`},ax.g);
 
 
 txt(yl,0,0,'Tp(10\u2076K)',16,'middle');
 tsLine(ax,tpT,tpV,'#00f','tp-line');
 const lg=el('g',{},ax.g);
 
 
 el('rect',{x:125,y:2983,width:42,height:28,fill:'#fff',stroke:'#000','stroke-width':2},lg);
 el('line',{x1:130,x2:143,y1:2997,y2:2997,stroke:'#00f','stroke-width':2},lg);
 txt(lg,146,3003,'Tp',15,'start');
}
</script>
</body></html>
